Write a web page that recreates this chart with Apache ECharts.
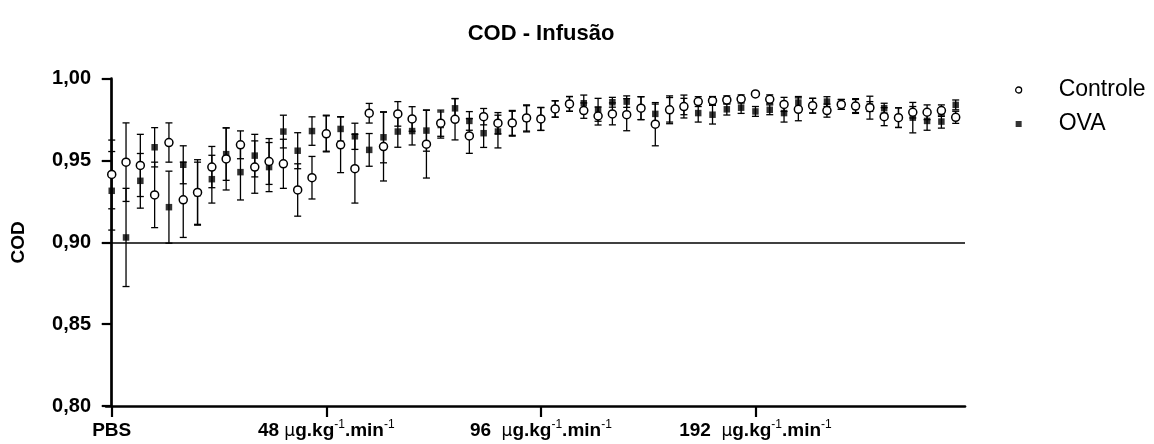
<!DOCTYPE html>
<html><head><meta charset="utf-8">
<script src="https://cdn.jsdelivr.net/npm/echarts@6/dist/echarts.min.js"></script>
<style>html,body{margin:0;padding:0;background:#fff}#c{width:1154px;height:444px}</style>
</head><body><div id="c"></div>
<script>
const controleMean = [0.9415,0.949,0.947,0.929,0.961,0.926,0.9305,0.946,0.951,0.9596,
  0.946,0.9494,0.948,0.932,0.9395,0.9663,0.9596,0.945,0.9789,0.9585,
  0.9785,0.9754,0.960,0.9728,0.9752,0.965,0.9768,0.9728,0.973,0.976,
  0.9754,0.9815,0.9846,0.9805,0.9772,0.9785,0.978,0.982,0.9722,0.981,
  0.983,0.986,0.9866,0.987,0.9876,0.9907,0.9874,0.9843,0.9813,0.9835,
  0.9805,0.9843,0.9833,0.9823,0.9768,0.9762,0.9795,0.9795,0.9805,0.9764];
const controleErr = [0.021,0.024,0.019,0.020,0.012,0.023,0.020,0.0126,0.019,0.0085,
  0.016,0.014,0.015,0.016,0.013,0.011,0.017,0.021,0.006,0.021,
  0.0075,0.0075,0.0207,0.008,0.0126,0.0106,0.005,0.0065,0.0076,0.008,
  0.007,0.005,0.0045,0.0047,0.0055,0.0067,0.0098,0.007,0.0132,0.0085,
  0.007,0.003,0.0025,0.0025,0.0025,0.001,0.0027,0.0043,0.007,0.0045,
  0.004,0.003,0.004,0.007,0.0055,0.006,0.0035,0.0045,0.0035,0.0037];
const ovaMean = [0.9315,0.903,0.9376,0.9581,0.9215,0.9474,0.930,0.9386,0.9539,0.9429,
  0.953,0.946,0.9677,0.956,0.968,0.9667,0.9693,0.9648,0.9565,0.9642,
  0.9677,0.968,0.9683,0.9717,0.9819,0.9742,0.9667,0.9677,0.9725,0.9755,
  0.9754,0.9815,0.9846,0.985,0.981,0.9856,0.986,0.982,0.9785,0.981,
  0.983,0.979,0.978,0.9813,0.9823,0.980,0.981,0.979,0.9854,0.9835,
  0.986,0.9843,0.9833,0.983,0.982,0.9762,0.9762,0.9742,0.9738,0.984];
const ovaErr = [0.024,0.030,0.0167,0.012,0.022,0.0116,0.019,0.0146,0.016,0.017,
  0.013,0.015,0.010,0.011,0.0087,0.011,0.0075,0.008,0.010,0.0156,
  0.0096,0.0085,0.0126,0.008,0.006,0.0057,0.0087,0.010,0.0076,0.008,
  0.007,0.005,0.0045,0.005,0.007,0.003,0.0035,0.007,0.006,0.0075,
  0.005,0.0055,0.0057,0.0035,0.0035,0.003,0.003,0.0055,0.0037,0.0045,
  0.003,0.003,0.0045,0.003,0.003,0.006,0.0093,0.0057,0.004,0.003];
const tickPositions = [0, 15, 30, 45];
const tickDoses = ['PBS', '48', '96', '192'];
const seriesNames = ['Controle', 'OVA'];
const refLine = 0.90;

const FONT = 'Liberation Sans, Arial, sans-serif';
const chart = echarts.init(document.getElementById('c'), null, {renderer: 'canvas'});

function pts(mean) { return mean.map((v, i) => [i, v]); }
function bars(mean, err) { return mean.map((v, i) => [i, v - err[i], v + err[i]]); }

function errRender(params, api) {
  const x = api.value(0);
  const lo = api.coord([x, api.value(1)]);
  const hi = api.coord([x, api.value(2)]);
  const w = 3.5;
  const st = {stroke: '#000', lineWidth: 1.3};
  return {type: 'group', children: [
    {type: 'line', shape: {x1: hi[0], y1: hi[1], x2: lo[0], y2: lo[1]}, style: st},
    {type: 'line', shape: {x1: hi[0]-w, y1: hi[1], x2: hi[0]+w, y2: hi[1]}, style: st},
    {type: 'line', shape: {x1: lo[0]-w, y1: lo[1], x2: lo[0]+w, y2: lo[1]}, style: st}
  ]};
}

function xLabel(value) {
  const k = tickPositions.indexOf(Math.round(value));
  if (k < 0) return '';
  const d = tickDoses[k];
  if (d === 'PBS') return '{b|PBS}';
  const gap = d === '48' ? ' ' : '  ';
  return '{b|' + d + gap + '}{m|\u00b5}{b|g.kg}{s|-1}{b|.min}{s|-1}';
}

chart.setOption({
  animation: false,
  backgroundColor: '#fff',
  title: {
    text: 'COD - Infusão', left: 536, top: 18, textAlign: 'center',
    textStyle: {fontFamily: FONT, fontWeight: 'bold', fontSize: 22, color: '#000'}
  },
  legend: {
    orient: 'vertical', left: 1010, top: 71, itemGap: 6,
    itemWidth: 6, itemHeight: 6,
    data: [
      {name: seriesNames[0], icon: 'circle', itemStyle: {color: '#fff', borderColor: '#000', borderWidth: 1.3}},
      {name: seriesNames[1], icon: 'rect'}
    ],
    textStyle: {fontFamily: FONT, fontSize: 23, lineHeight: 28, color: '#000', padding: [0, 0, 0, 32]}
  },
  grid: {left: 106, right: 189, top: 78.7, bottom: 38, containLabel: false},
  xAxis: {
    type: 'value', min: -0.4, max: 59.65,
    splitLine: {show: false},
    axisLine: {lineStyle: {color: '#000', width: 2.7}},
    axisTick: {show: true, length: 11, lineStyle: {color: '#000', width: 2.2}, customValues: tickPositions},
    axisLabel: {
      customValues: tickPositions, margin: 13, formatter: xLabel, color: '#000',
      rich: {
        b: {fontFamily: FONT, fontWeight: 'bold', fontSize: 19, lineHeight: 21, verticalAlign: 'bottom', color: '#000'},
        m: {fontFamily: 'DejaVu Sans', fontSize: 17, lineHeight: 21, verticalAlign: 'bottom', color: '#000'},
        s: {fontFamily: FONT, fontSize: 12, lineHeight: 12, verticalAlign: 'top', color: '#000'}
      }
    }
  },
  yAxis: {
    type: 'value', min: 0.80, max: 1.00, interval: 0.05,
    name: 'COD', nameLocation: 'middle', nameGap: 78, nameRotate: 90,
    nameTextStyle: {fontFamily: FONT, fontWeight: 'bold', fontSize: 19, color: '#000'},
    splitLine: {show: false},
    axisLine: {show: true, lineStyle: {color: '#000', width: 2.7}},
    axisTick: {show: true, length: 10, lineStyle: {color: '#000', width: 2.2}},
    axisLabel: {
      margin: 15, color: '#000', fontFamily: FONT, fontWeight: 'bold', fontSize: 20,
      formatter: v => v.toFixed(2).replace('.', ',')
    }
  },
  series: [
    {type: 'custom', name: 'errC', renderItem: errRender, data: bars(controleMean, controleErr), z: 2, silent: true,
     markLine: {silent: true, symbol: 'none', label: {show: false},
       lineStyle: {color: '#000', width: 1.5, type: 'solid'}, data: [{yAxis: refLine}]}},
    {type: 'custom', name: 'errO', renderItem: errRender, data: bars(ovaMean, ovaErr), z: 2, silent: true},
    {type: 'scatter', name: seriesNames[1], data: pts(ovaMean), symbol: 'rect', symbolSize: 6.5,
     itemStyle: {color: '#000'}, z: 3},
    {type: 'scatter', name: seriesNames[0], data: pts(controleMean), symbol: 'circle', symbolSize: 8,
     itemStyle: {color: '#fff', borderColor: '#000', borderWidth: 1.5, opacity: 1}, z: 4}
  ]
});
</script></body></html>
